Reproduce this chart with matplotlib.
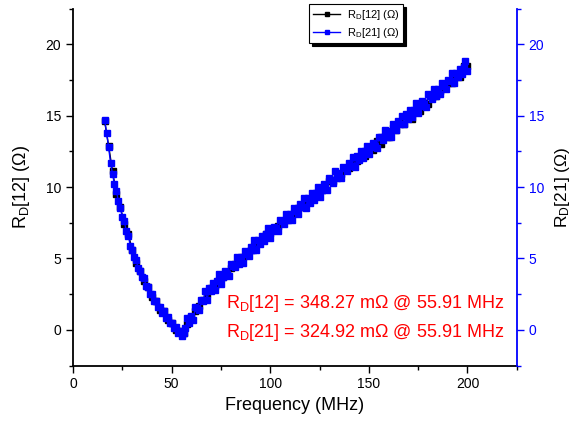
import matplotlib
matplotlib.use('Agg')
import matplotlib.pyplot as plt
from matplotlib.ticker import MultipleLocator

plt.rcParams['font.family'] = ['Liberation Sans', 'DejaVu Sans']
plt.rcParams['mathtext.default'] = 'regular'

# frequency sweep for R_D[21] (MHz), 1 MHz step
freq21 = list(range(16, 201))

# R_D[21] (ohm), blue series, one row per 10 MHz
r21 = [14.7, 13.8, 12.8, 11.7, 10.9, 10.2, 9.7, 9.0, 8.5, 7.9,      # 16-25
       7.6, 6.9, 6.6, 5.9, 5.6, 5.1, 4.9, 4.3, 4.1, 3.7,            # 26-35
       3.6, 3.1, 3.0, 2.5, 2.5, 2.0, 2.0, 1.6, 1.6, 1.2,            # 36-45
       1.3, 0.8, 0.9, 0.5, 0.5, 0.1, 0.2, -0.2, -0.1, -0.4,         # 46-55
       -0.2, 0.1, 0.8, 0.5, 1.0, 0.7, 1.6, 1.5, 1.4, 2.1,           # 56-65
       2.0, 2.7, 2.1, 2.9, 2.7, 3.3, 2.8, 3.4, 3.9, 3.2,            # 66-75
       3.7, 4.1, 3.9, 3.8, 4.6, 4.5, 4.4, 5.1, 4.6, 5.1,            # 76-85
       4.7, 5.5, 5.3, 5.2, 5.8, 5.6, 6.3, 5.6, 6.3, 6.0,            # 86-95
       6.6, 6.2, 6.7, 7.1, 6.4, 6.9, 7.2, 7.1, 6.9, 7.7,            # 96-105
       7.6, 7.4, 8.1, 7.7, 8.1, 7.7, 8.5, 8.3, 8.1, 8.8,            # 106-115
       8.6, 9.2, 8.5, 9.2, 8.9, 9.6, 9.1, 9.6, 10.0, 9.3,           # 116-125
       9.8, 10.2, 10.0, 9.8, 10.6, 10.5, 10.3, 11.1, 10.6, 11.0,    # 126-135
       10.6, 11.4, 11.3, 11.1, 11.7, 11.5, 12.1, 11.4, 12.2, 11.9,  # 136-145
       12.5, 12.0, 12.5, 12.9, 12.3, 12.8, 13.1, 12.9, 12.7, 13.5,  # 146-155
       13.5, 13.3, 14.0, 13.5, 13.9, 13.5, 14.4, 14.2, 14.0, 14.6,  # 156-165
       14.4, 15.0, 14.4, 15.1, 14.8, 15.4, 14.9, 15.4, 15.9, 15.2,  # 166-175
       15.7, 16.0, 15.8, 15.6, 16.5, 16.4, 16.2, 16.9, 16.4, 16.9,  # 176-185
       16.5, 17.3, 17.1, 16.9, 17.5, 17.4, 18.0, 17.3, 18.0, 17.7,  # 186-195
       18.3, 17.9, 18.4, 18.8, 18.1]                                # 196-200

# frequency sweep for R_D[12] (MHz), 2 MHz step
freq12 = list(range(16, 201, 2))

# R_D[12] (ohm), black series
r12 = [14.6, 12.9, 11.1, 9.5, 8.6, 7.4, 6.7, 5.6, 4.7, 4.1, 3.4, 3.0, 2.3, 2.0,
       1.4, 1.3, 0.7, 0.5, 0.0, -0.1, -0.2, 0.4, 0.9, 1.3, 1.7, 2.1, 2.5, 2.9,
       3.1, 3.5, 3.7, 4.0, 4.3, 4.6, 4.8, 5.1, 5.3, 5.6, 5.9, 6.1, 6.3, 6.7,
       6.8, 7.0, 7.3, 7.5, 7.7, 8.0, 8.2, 8.5, 8.6, 9.0, 9.1, 9.4, 9.6, 9.8,
       10.0, 10.4, 10.4, 10.8, 10.9, 11.3, 11.3, 11.7, 11.8, 12.2, 12.2, 12.7,
       12.6, 13.2, 13.0, 13.6, 13.5, 14.1, 14.0, 14.5, 14.4, 14.9, 14.8, 15.4,
       15.3, 15.9, 15.8, 16.3, 16.4, 16.7, 17.0, 17.3, 17.3, 17.8, 17.7, 18.5,
       18.5]

label12 = 'R$_D$[12] (Ω)'
label21 = 'R$_D$[21] (Ω)'
note12 = 'R$_D$[12] = 348.27 mΩ @ 55.91 MHz'
note21 = 'R$_D$[21] = 324.92 mΩ @ 55.91 MHz'

fig = plt.figure(figsize=(5.71, 4.28), dpi=100)
ax = fig.add_axes([0.128, 0.146, 0.777, 0.834])
ax2 = ax.twinx()

l1, = ax.plot(freq12, r12, color='black', marker='s', markersize=5, linewidth=1)
l2, = ax2.plot(freq21, r21, color='blue', marker='s', markersize=5, linewidth=1)

for a in (ax, ax2):
    a.set_xlim(0, 225)
    a.set_ylim(-2.5, 22.5)
    a.spines['top'].set_visible(False)

ax.spines['right'].set_visible(False)
ax2.spines['left'].set_visible(False)
ax2.spines['bottom'].set_visible(False)
for s in ('left', 'bottom'):
    ax.spines[s].set_linewidth(1.3)
ax2.spines['right'].set_color('blue')
ax2.spines['right'].set_linewidth(1.3)

ax.xaxis.set_major_locator(MultipleLocator(50))
ax.xaxis.set_minor_locator(MultipleLocator(25))
ax.yaxis.set_major_locator(MultipleLocator(5))
ax.yaxis.set_minor_locator(MultipleLocator(2.5))
ax2.yaxis.set_major_locator(MultipleLocator(5))
ax2.yaxis.set_minor_locator(MultipleLocator(2.5))

ax.tick_params(which='major', direction='out', length=5, width=1, labelsize=10)
ax.tick_params(which='minor', direction='out', length=3, width=1)
ax2.tick_params(which='major', direction='out', length=5, width=1, labelsize=10,
                colors='blue')
ax2.tick_params(which='minor', direction='out', length=3, width=1, colors='blue')

ax.set_xlabel('Frequency (MHz)', fontsize=13)
ax.set_ylabel(label12, fontsize=13, labelpad=10)
ax2.set_ylabel(label21, fontsize=12.5, color='black', labelpad=6)

ax2.text(77.3, 1.5, note12, color='red', fontsize=13, va='baseline')
ax2.text(77.3, -0.5, note21, color='red', fontsize=13, va='baseline')

leg = ax2.legend([l1, l2], [label12, label21], loc='upper center',
                 bbox_to_anchor=(0.624, 0.99), bbox_transform=fig.transFigure,
                 borderaxespad=0, fontsize=8, fancybox=False, framealpha=1,
                 edgecolor='black', shadow={'color': 'black', 'alpha': 1},
                 handlelength=2.5, markerscale=0.5, borderpad=0.3,
                 labelspacing=0.4, handletextpad=0.6)
leg.get_frame().set_linewidth(0.8)

fig.savefig('out.png', dpi=100)
